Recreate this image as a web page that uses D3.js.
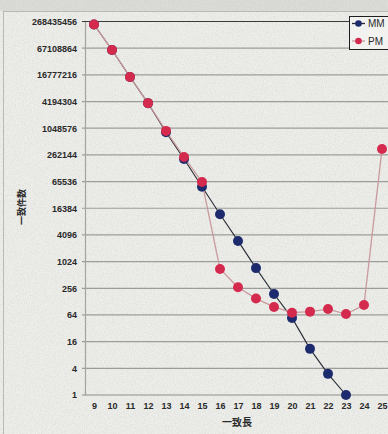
<!DOCTYPE html>
<html>
<head>
<meta charset="utf-8">
<script src="https://cdn.jsdelivr.net/npm/d3@7"></script>
<style>
  html, body { margin: 0; padding: 0; background: #ebece8; }
  svg { display: block; }
</style>
</head>
<body>
<svg id="chart" width="388" height="434"></svg>
<script>
// match length on the x axis
const lengths = [9, 10, 11, 12, 13, 14, 15, 16, 17, 18, 19, 20, 21, 22, 23, 24, 25];
// match counts per length
const mmCounts = [230000000, 61000000, 15000000, 3860000, 850000, 212000, 50000, 12000, 3000, 730, 190, 55, 11, 3, 1];
const pmCounts = [230000000, 61000000, 15000000, 3860000, 912000, 235000, 64000, 700, 270, 150, 97, 72, 76, 87, 67, 107, 355000];
// y tick values: powers of four
const yTicks = [1, 4, 16, 64, 256, 1024, 4096, 16384, 65536, 262144, 1048576, 4194304, 16777216, 67108864, 268435456];
const seriesNames = ["MM", "PM"];

const svg = d3.select("#chart");
const W = 388, H = 434;
const plot = { left: 85, right: 391, top: 21.5, bottom: 395 };

// grainy paper background
const defs = svg.append("defs");
const grain = defs.append("filter").attr("id", "grain").attr("x", 0).attr("y", 0).attr("width", "100%").attr("height", "100%");
grain.append("feTurbulence").attr("type", "fractalNoise").attr("baseFrequency", 0.9).attr("numOctaves", 2).attr("seed", 4).attr("result", "n");
grain.append("feColorMatrix").attr("in", "n").attr("type", "matrix")
  .attr("values", "0 0 0 0 0.45  0 0 0 0 0.46  0 0 0 0 0.44  0 0 0 -1.6 1.05");
svg.append("rect").attr("width", W).attr("height", H).attr("fill", "#eeefeb");
svg.append("rect").attr("width", W).attr("height", 11).attr("fill", "#dcddd9");
svg.append("rect").attr("width", W).attr("height", H).attr("filter", "url(#grain)").attr("opacity", 0.3);

// chart frame
svg.append("rect").attr("x", 3.5).attr("y", 11.5).attr("width", W + 10).attr("height", H + 10)
  .attr("fill", "none").attr("stroke", "#b9bab6").attr("stroke-width", 1);

const x = d3.scalePoint().domain(lengths).range([94, 382]);
const y = d3.scaleLog().base(4).domain([1, 268435456]).range([plot.bottom, plot.top]);

// horizontal gridlines
svg.append("g").selectAll("line").data(yTicks.slice(1)).join("line")
  .attr("x1", plot.left - 3).attr("x2", plot.right)
  .attr("y1", d => y(d)).attr("y2", d => y(d))
  .attr("stroke", d => d === 268435456 ? "#3a3a3a" : "#9c9d9a")
  .attr("stroke-width", 1.2);

// y axis
const yAxis = d3.axisLeft(y).tickValues(yTicks).tickFormat(d3.format("d")).tickSize(0).tickPadding(8);
const yg = svg.append("g").attr("transform", `translate(${plot.left},0)`).call(yAxis);
yg.select(".domain").attr("stroke", "#a3a4a1").attr("stroke-width", 1.2);
yg.selectAll("text").attr("font-family", "Liberation Sans, Arial, sans-serif")
  .attr("font-size", 9).attr("font-weight", "bold").attr("fill", "#2a2a2a");

// x axis
const xAxis = d3.axisBottom(x).tickSize(0).tickPadding(8);
const xg = svg.append("g").attr("transform", `translate(0,${plot.bottom})`).call(xAxis);
xg.select(".domain").attr("d", `M${plot.left - 3},0H${plot.right}`).attr("stroke", "#8e8f8c").attr("stroke-width", 1.2);
xg.selectAll("text").attr("font-family", "Liberation Sans, Arial, sans-serif")
  .attr("font-size", 9).attr("font-weight", "bold").attr("fill", "#2a2a2a");

// axis titles
svg.append("text").attr("x", 237).attr("y", 426).attr("text-anchor", "middle")
  .attr("font-family", "Noto Sans CJK JP, sans-serif").attr("font-size", 10).attr("font-weight", "bold")
  .attr("fill", "#2a2a2a").text("一致長");
svg.append("text").attr("transform", "translate(25,207) rotate(-90)").attr("text-anchor", "middle")
  .attr("font-family", "Noto Sans CJK JP, sans-serif").attr("font-size", 9).attr("font-weight", "bold")
  .attr("fill", "#2a2a2a").text("一致件数");

const mm = mmCounts.map((v, i) => ({ len: lengths[i], v }));
const pm = pmCounts.map((v, i) => ({ len: lengths[i], v }));
const line = d3.line().x(d => x(d.len)).y(d => y(d.v));

const colors = { MM: { line: "#262a33", dot: "#1d2b6e" }, PM: { line: "#c99a9e", dot: "#d42a4e" } };

svg.append("path").datum(mm).attr("d", line).attr("fill", "none")
  .attr("stroke", colors.MM.line).attr("stroke-width", 1.1);
svg.append("path").datum(pm).attr("d", line).attr("fill", "none")
  .attr("stroke", colors.PM.line).attr("stroke-width", 1.3);

svg.append("g").selectAll("circle").data(mm).join("circle")
  .attr("cx", d => x(d.len)).attr("cy", d => y(d.v)).attr("r", 5)
  .attr("fill", colors.MM.dot);
svg.append("g").selectAll("circle").data(pm).join("circle")
  .attr("cx", d => x(d.len)).attr("cy", d => y(d.v)).attr("r", 5)
  .attr("fill", colors.PM.dot);

// legend
const lg = svg.append("g");
lg.append("rect").attr("x", 349.5).attr("y", 16.5).attr("width", 60).attr("height", 33)
  .attr("fill", "#f2f3f0").attr("stroke", "#1e1e1e").attr("stroke-width", 1);
seriesNames.forEach((name, i) => {
  const ly = 23.5 + i * 17.5;
  lg.append("line").attr("x1", 352).attr("x2", 365).attr("y1", ly).attr("y2", ly)
    .attr("stroke", colors[name].line).attr("stroke-width", 1.3);
  lg.append("circle").attr("cx", 358.5).attr("cy", ly).attr("r", 3.3).attr("fill", colors[name].dot);
  lg.append("text").attr("x", 368).attr("y", ly + 3.5)
    .attr("font-family", "Liberation Sans, Arial, sans-serif").attr("font-size", 10)
    .attr("fill", "#2a2a2a").text(name);
});
</script>
</body>
</html>
